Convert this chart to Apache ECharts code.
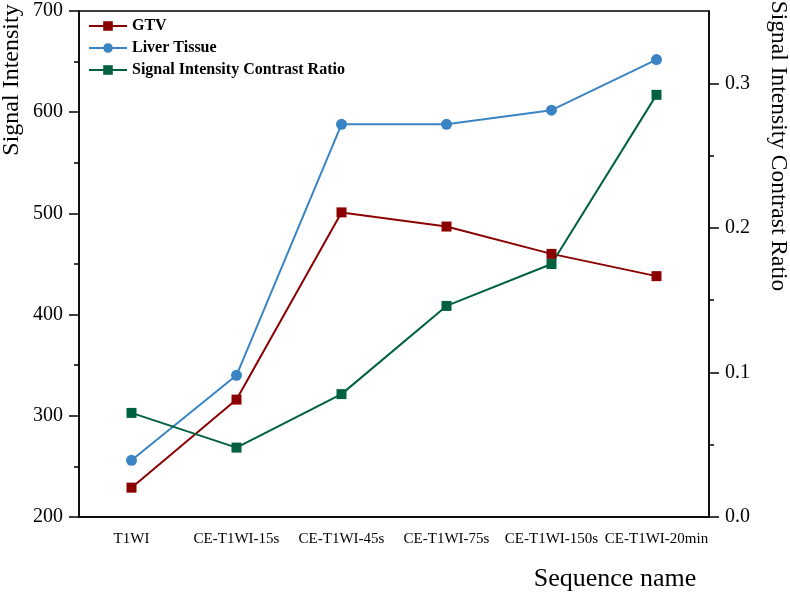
<!DOCTYPE html>
<html>
<head>
<meta charset="utf-8">
<script src="https://cdn.jsdelivr.net/npm/echarts@6/dist/echarts.min.js"></script>
<style>
  html, body { margin: 0; padding: 0; background: #fff; }
  #chart { width: 790px; height: 596px; }
</style>
</head>
<body>
<div id="chart"></div>
<script>
const categories = ['T1WI', 'CE-T1WI-15s', 'CE-T1WI-45s', 'CE-T1WI-75s', 'CE-T1WI-150s', 'CE-T1WI-20min'];
const gtv = [229, 316, 501, 487, 460, 438];
const liverTissue = [256, 340, 588, 588, 602, 652];
const contrastRatio = [0.072, 0.048, 0.085, 0.146, 0.175, 0.292];
const rightTicks = [0, 0.1, 0.2, 0.3];
const rightMinorTicks = [0.05, 0.15, 0.25];

const font = '"Liberation Serif", "Times New Roman", serif';
const black = '#000';

var myChart = echarts.init(document.getElementById('chart'), null, { renderer: 'canvas' });

let option = {
    animation: false,
    textStyle: { fontFamily: font, color: black },
    grid: {
        left: 79, right: 81, top: 11, bottom: 79,
        show: true,
        borderColor: black,
        borderWidth: 1.5,
        containLabel: false
    },
    legend: {
        orient: 'vertical',
        left: 83,
        top: 13,
        itemWidth: 38,
        itemHeight: 12,
        itemGap: 6,
        textStyle: { fontFamily: font, fontWeight: 'bold', fontSize: 16, color: black },
        data: ['GTV', 'Liver Tissue', 'Signal Intensity Contrast Ratio']
    },
    xAxis: [
        {
            type: 'category',
            data: categories,
            boundaryGap: true,
            axisLine: { lineStyle: { color: black, width: 1.5 } },
            axisTick: { alignWithLabel: true, length: 8, lineStyle: { color: black, width: 1.5 } },
            axisLabel: { interval: 0, margin: 15, fontSize: 15, color: black, fontFamily: font },
            splitLine: { show: false }
        },
        {
            // short ticks between categories
            type: 'category',
            data: categories,
            position: 'bottom',
            boundaryGap: true,
            axisLine: { show: false },
            axisTick: { alignWithLabel: false, length: 5, lineStyle: { color: black, width: 1.5 } },
            axisLabel: { show: false },
            splitLine: { show: false }
        }
    ],
    yAxis: [
        {
            type: 'value',
            min: 200,
            max: 700,
            interval: 100,
            position: 'left',
            axisLine: { show: true, lineStyle: { color: black, width: 1.5 } },
            axisTick: { show: true, length: 10, lineStyle: { color: black, width: 1.5 } },
            minorTick: { show: true, splitNumber: 2, length: 5, lineStyle: { color: black, width: 1.5 } },
            axisLabel: { margin: 16, fontSize: 20, color: black, fontFamily: font },
            splitLine: { show: false }
        },
        {
            type: 'value',
            min: 0,
            max: 0.35,
            position: 'right',
            axisLine: { show: true, lineStyle: { color: black, width: 1.5 } },
            axisTick: { show: true, length: 10, customValues: rightTicks, lineStyle: { color: black, width: 1.5 } },
            axisLabel: {
                margin: 16, fontSize: 20, color: black, fontFamily: font,
                customValues: rightTicks,
                formatter: (v) => v.toFixed(1)
            },
            splitLine: { show: false }
        },
        {
            // minor ticks for the right axis
            type: 'value',
            min: 0,
            max: 0.35,
            position: 'right',
            axisLine: { show: false },
            axisTick: { show: true, length: 5, customValues: rightMinorTicks, lineStyle: { color: black, width: 1.5 } },
            axisLabel: { show: false },
            splitLine: { show: false }
        }
    ],
    graphic: [
        {
            type: 'text', x: 12, y: 80, rotation: Math.PI / 2,
            style: { text: 'Signal Intensity', font: '24px ' + font, fill: black, textAlign: 'center', textVerticalAlign: 'middle' }
        },
        {
            type: 'text', x: 778, y: 146, rotation: -Math.PI / 2,
            style: { text: 'Signal Intensity Contrast Ratio', font: '23.5px ' + font, fill: black, textAlign: 'center', textVerticalAlign: 'middle' }
        },
        {
            type: 'text', x: 615, y: 579,
            style: { text: 'Sequence name', font: '26px ' + font, fill: black, textAlign: 'center', textVerticalAlign: 'middle' }
        }
    ],
    series: [
        {
            name: 'GTV',
            type: 'line',
            data: gtv,
            yAxisIndex: 0,
            symbol: 'rect',
            symbolSize: 10,
            lineStyle: { color: '#8b0000', width: 2 },
            itemStyle: { color: '#8b0000' }
        },
        {
            name: 'Liver Tissue',
            type: 'line',
            data: liverTissue,
            yAxisIndex: 0,
            symbol: 'circle',
            symbolSize: 11,
            lineStyle: { color: '#3a84c4', width: 2 },
            itemStyle: { color: '#3a84c4' }
        },
        {
            name: 'Signal Intensity Contrast Ratio',
            type: 'line',
            data: contrastRatio,
            yAxisIndex: 1,
            symbol: 'rect',
            symbolSize: 10,
            lineStyle: { color: '#006040', width: 2 },
            itemStyle: { color: '#006040' }
        }
    ]
};

option && myChart.setOption(option);
</script>
</body>
</html>
